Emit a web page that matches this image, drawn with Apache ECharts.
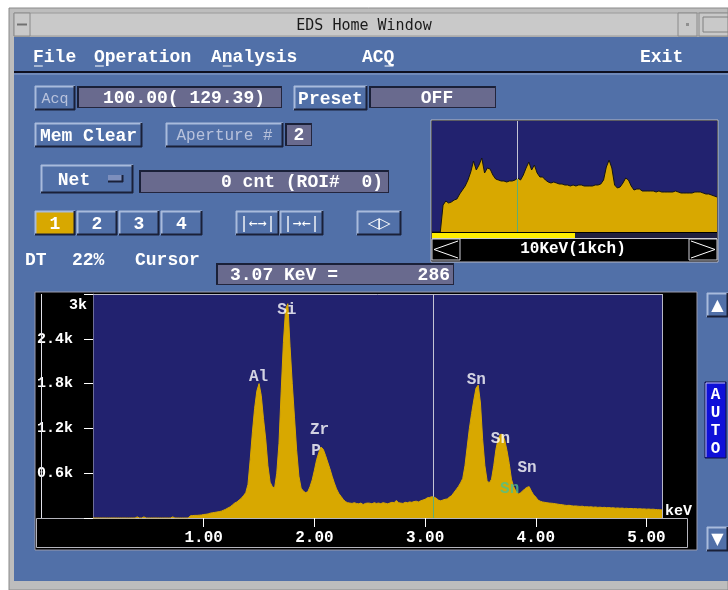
<!DOCTYPE html>
<html>
<head>
<meta charset="utf-8">
<script src="https://cdn.jsdelivr.net/npm/echarts@6/dist/echarts.min.js"></script>
<style>
  html, body { margin: 0; padding: 0; background: #ffffff; }
  #chart { width: 728px; height: 590px; }
</style>
</head>
<body>
<div id="chart"></div>
<script>
// spectrum channels: 0.02 keV per point, starting at 0 keV
const SPEC_START = 0;
const SPEC_STEP = 0.02;
const specCounts = [
  0, 0, 0, 0, 0, 0, 0, 0, 0, 0, 0, 0, 0, 0, 0, 0, 0, 0, 0, 0,
  15, 0, 0, 15, 0, 0, 0, 0, 0, 0, 0, 0, 0, 0, 0, 0, 15, 0, 0, 0,
  0, 0, 0, 0, 30, 32, 35, 35, 38, 40, 47, 50, 55, 65, 70, 75, 80, 85, 92, 105,
  118, 135, 150, 175, 200, 215, 240, 265, 300, 340, 450, 780, 1150, 1470, 1700, 1800, 1640, 1330, 1060, 700,
  480, 420, 400, 600, 1000, 1700, 2350, 2800, 2870, 2300, 1800, 1350, 900, 560, 400, 360, 340, 350, 420, 510,
  640, 780, 880, 950, 920, 840, 750, 660, 560, 470, 390, 330, 290, 250, 220, 205, 200, 195, 205, 195,
  190, 200, 180, 195, 200, 198, 190, 205, 195, 200, 192, 205, 198, 190, 200, 210, 205, 235, 205, 200,
  195, 210, 205, 215, 210, 220, 225, 215, 230, 240, 250, 270, 275, 285, 280, 265, 240, 230, 240, 250,
  255, 280, 300, 340, 380, 420, 470, 530, 700, 950, 1200, 1400, 1580, 1740, 1780, 1540, 1050, 700, 500, 470,
  520, 700, 920, 1060, 1120, 1120, 1040, 900, 730, 520, 420, 360, 320, 335, 360, 390, 410, 420, 360, 310,
  280, 240, 225, 215, 210, 205, 200, 198, 195, 190, 185, 180, 178, 172, 168, 170, 165, 160, 162, 158,
  155, 158, 150, 152, 148, 150, 145, 148, 142, 145, 140, 143, 138, 140, 135, 138, 132, 135, 130, 133,
  128, 130, 126, 128, 124, 126, 122, 124, 120, 122, 118, 120, 116, 118, 114, 112, 110, 108
];

// overview strip: 0.1 keV per point, relative height
const MINI_STEP = 0.1;
const miniHeights = [
  0, 0, 0, 0, 27, 31, 29, 30, 32, 33, 38, 42, 46, 52, 60, 71, 62, 67, 74, 59,
  64, 63, 57, 53, 52, 51, 51, 50, 51, 51, 52, 54, 52, 57, 64, 70, 62, 67, 59, 55,
  55, 52, 50, 49, 50, 49, 48, 48, 47, 47, 46, 47, 46, 47, 47, 46, 46, 46, 46, 47,
  47, 48, 52, 65, 72, 64, 47, 44, 45, 49, 54, 52, 46, 42, 43, 43, 41, 41, 41, 41,
  41, 40, 41, 40, 40, 40, 40, 40, 41, 40, 39, 39, 39, 39, 39, 40, 40, 40, 39, 38,
  38, 37, 36, 35
];

const peakNames = ["Al", "Si", "Zr", "P", "Sn", "Sn", "Sn", "Sn"];
const peakKeV = [1.495, 1.751, 2.046, 2.016, 3.463, 3.68, 3.921, 3.764];
const peakLabelY = [1894, 2791, 1177, 894, 1849, 1065, 670, 383];

const xTickValues = [1, 2, 3, 4, 5];
const cursorKeV = 3.07;
const cursorCount = 286;

const specData = specCounts.map((c, i) => [+(SPEC_START + i * SPEC_STEP).toFixed(2), c]);
const miniData = miniHeights.map((h, i) => [+(i * MINI_STEP).toFixed(1), h]);

const BODY = "#5170a8";
const FIELD = "#696a8e";
const PLOT = "#22226f";
const GOLD = "#d8a800";
const LIGHT = "#a9bbdc";
const DARK = "#1a2038";
const FONT = "bold 18px 'Liberation Mono', monospace";
const FONT_S = "bold 16px 'Liberation Mono', monospace";

const els = [];

function rect(x, y, w, h, fill, stroke, z) {
  els.push({ type: "rect", z: z == null ? -5 : z, shape: { x, y, width: w, height: h },
    style: { fill: fill, stroke: stroke || null, lineWidth: stroke ? 1 : 0 } });
}
function line(x1, y1, x2, y2, color, lw, z) {
  els.push({ type: "line", z: z == null ? -4 : z, shape: { x1, y1, x2, y2 },
    style: { stroke: color, lineWidth: lw || 1 } });
}
function text(t, x, y, font, color, align, z) {
  els.push({ type: "text", z: z == null ? 10 : z, x: x, y: y,
    style: { text: t, font: font, fill: color, align: align || "left", verticalAlign: "middle",
      textAlign: align || "left", textVerticalAlign: "middle" } });
}
// raised button with bevel
function button(x, y, w, h, fill, label, color, font) {
  rect(x, y, w, h, fill);
  line(x, y + 0.5, x + w, y + 0.5, LIGHT, 2);
  line(x + 0.5, y, x + 0.5, y + h, LIGHT, 2);
  line(x, y + h - 0.5, x + w, y + h - 0.5, DARK, 2);
  line(x + w - 0.5, y, x + w - 0.5, y + h, DARK, 2);
  if (label) text(label, x + w / 2, y + h / 2 + 1, font || FONT, color || "#ffffff", "center");
}
// sunken value field
function field(x, y, w, h, label, align, tx) {
  rect(x, y, w, h, FIELD);
  line(x, y + 1, x + w, y + 1, DARK, 2);
  line(x + 1, y, x + 1, y + h, DARK, 2);
  line(x, y + h - 0.5, x + w, y + h - 0.5, "#23253d", 1);
  line(x + w - 0.5, y, x + w - 0.5, y + h, "#23253d", 1);
  if (label) text(label, tx, y + h / 2 + 1, FONT, "#ffffff", align);
}

// window frame and title bar
rect(9, 8, 719, 582, "#bdbdbd", "#8a8a8a", -20);
rect(14, 13, 714, 23, "#c9c9c9", "#9a9a9a", -19);
rect(14, 13, 16, 23, "#c9c9c9", "#8a8a8a", -18);
line(17, 24.5, 27, 24.5, "#707070", 2, -17);
rect(678, 13, 19, 23, "#c9c9c9", "#8a8a8a", -18);
rect(686, 23, 3, 3, "#909090", null, -17);
rect(699, 13, 29, 23, "#c9c9c9", "#8a8a8a", -18);
rect(703, 17, 25, 15, "#c9c9c9", "#808080", -17);
text("EDS Home Window", 364, 26, "15px 'DejaVu Sans Mono', monospace", "#1a1a1a", "center");

// body
rect(14, 37, 714, 544, BODY, null, -19);
line(14, 72, 728, 72, "#0e1020", 2);
line(14, 74, 728, 74, "#8fa3cc", 1);

// menu
const menu = [["File", 33, 0], ["Operation", 94, 0], ["Analysis", 211, 1], ["ACQ", 362, 2], ["Exit", 640, -1]];
menu.forEach(([t, x, u]) => {
  text(t, x, 57, FONT, "#ffffff", "left");
  if (u >= 0) line(x + u * 10.8 + 1, 66, x + (u + 1) * 10.8 - 1, 66, "#ffffff", 1, 10);
});

// controls row 1
button(35, 86, 40, 24, BODY, "Acq", "#b8c2dc", "15px 'Liberation Mono', monospace");
field(77, 86, 205, 22, "100.00( 129.39)", "center", 184);
button(294, 86, 73, 24, BODY, "Preset");
field(369, 86, 127, 22, "OFF", "center", 437);

// row 2
button(35, 123, 107, 24, BODY, "Mem Clear");
button(166, 123, 117, 24, BODY, "Aperture #", "#b8c2dc", "16px 'Liberation Mono', monospace");
field(285, 123, 27, 23, "2", "center", 299);

// row 3
button(41, 165, 92, 28, BODY, null);
text("Net", 74, 180, FONT, "#ffffff", "center");
rect(108, 175, 15, 7, "#7d8fbd", null, -3);
line(108, 181.5, 123, 181.5, DARK, 2, -2);
line(122.5, 175, 122.5, 182, DARK, 2, -2);
field(139, 170, 250, 23, "0 cnt (ROI#  0)", "right", 383);

// row 4
button(35, 211, 40, 24, GOLD, "1");
button(77, 211, 40, 24, BODY, "2");
button(119, 211, 40, 24, BODY, "3");
button(161, 211, 41, 24, BODY, "4");
button(236, 211, 43, 24, BODY, "|\u2190\u2192|", "#ffffff", "15px 'DejaVu Sans Mono', monospace");
button(280, 211, 43, 24, BODY, "|\u2192\u2190|", "#ffffff", "15px 'DejaVu Sans Mono', monospace");
button(357, 211, 44, 24, BODY, "\u25C1\u25B7", "#ffffff", "15px 'DejaVu Sans', sans-serif");

// status row
text("DT", 25, 260, FONT, "#ffffff", "left");
text("22%", 72, 260, FONT, "#ffffff", "left");
text("Cursor", 135, 260, FONT, "#ffffff", "left");
field(216, 263, 238, 22, null);
text(cursorKeV.toFixed(2) + " KeV =", 230, 275, FONT, "#ffffff", "left");
text(String(cursorCount), 450, 275, FONT, "#ffffff", "right");

// overview strip frame
rect(431, 120, 287, 142, "#000000", "#b9b9c6", -6);
rect(432, 233, 285, 5, "#202040", null, -4);
rect(432, 233, 143, 5, "#ffee00", null, -3);
line(432, 238.5, 717, 238.5, "#c8c8d0", 1, -3);
rect(432, 239, 28, 21, "#000000", "#d0d0d8", -3);
rect(689, 239, 28, 21, "#000000", "#d0d0d8", -3);
els.push({ type: "polyline", z: 5, shape: { points: [[458, 241], [434, 249.5], [458, 258]] }, style: { stroke: "#ffffff", fill: null, lineWidth: 1 } });
els.push({ type: "polyline", z: 5, shape: { points: [[691, 241], [715, 249.5], [691, 258]] }, style: { stroke: "#ffffff", fill: null, lineWidth: 1 } });
text("10KeV(1kch)", 573, 249, FONT_S, "#ffffff", "center");

// main spectrum frame
rect(35, 292, 662, 258, "#000000", "#9a9aac", -6);
rect(36.5, 518.5, 651, 29, "#000000", "#b4b4bc", -4);
line(41.5, 294, 41.5, 518, "#e0e0e8", 1, 5);
line(93, 294.5, 662, 294.5, "#b8b8c8", 1, 5);
line(662.5, 294, 662.5, 518, "#b8b8c8", 1, 5);
text("3k", 87, 305, "bold 15px 'Liberation Mono', monospace", "#ffffff", "right");
text("keV", 665, 511, "bold 15px 'Liberation Mono', monospace", "#ffffff", "left");

// side buttons
button(707, 293, 21, 24, BODY, "\u25B2", "#ffffff", "16px 'DejaVu Sans', sans-serif");
button(707, 527, 21, 24, BODY, "\u25BC", "#ffffff", "16px 'DejaVu Sans', sans-serif");
rect(705, 382, 21, 76, "#0f10d8", "#101040");
line(706, 383, 725, 383, "#c8c8e8", 1);
line(706, 383, 706, 457, "#c8c8e8", 1);
["A", "U", "T", "O"].forEach((c, i) => text(c, 715.5, 395 + i * 18, FONT_S, "#ffffff", "center"));

const chart = echarts.init(document.getElementById("chart"), null, { renderer: "canvas" });

chart.setOption({
  animation: false,
  backgroundColor: "#ffffff",
  grid: [
    { left: 93, top: 294, width: 569, height: 224, show: true, backgroundColor: PLOT, borderWidth: 0 },
    { left: 432, top: 121, width: 285, height: 111, show: true, backgroundColor: PLOT, borderWidth: 0 }
  ],
  xAxis: [
    {
      gridIndex: 0, type: "value", min: 0, max: 5.14, interval: 1,
      axisLine: { show: true, lineStyle: { color: "#b4b4bc" } },
      axisTick: { show: true, inside: false, length: 9, customValues: xTickValues, lineStyle: { color: "#ffffff" } },
      axisLabel: { customValues: xTickValues, margin: 12, color: "#ffffff",
        fontFamily: "Liberation Mono", fontWeight: "bold", fontSize: 16,
        formatter: (v) => v.toFixed(2) },
      splitLine: { show: false }
    },
    {
      gridIndex: 1, type: "value", min: 0, max: 10.3,
      axisLine: { show: false }, axisTick: { show: false }, axisLabel: { show: false }, splitLine: { show: false }
    }
  ],
  yAxis: [
    {
      gridIndex: 0, type: "value", min: 0, max: 3000, interval: 600,
      axisLine: { show: true, lineStyle: { color: "#6e6e98" } },
      axisTick: { show: true, inside: false, length: 9, lineStyle: { color: "#ffffff" } },
      axisLabel: { margin: 20, color: "#ffffff", fontFamily: "Liberation Mono", fontWeight: "bold", fontSize: 15,
        formatter: (v) => (v === 0 || v === 3000) ? "" : (v / 1000).toFixed(1) + "k" },
      splitLine: { show: false }
    },
    {
      gridIndex: 1, type: "value", min: 0, max: 111,
      axisLine: { show: false }, axisTick: { show: false }, axisLabel: { show: false }, splitLine: { show: false }
    }
  ],
  series: [
    {
      type: "line", xAxisIndex: 0, yAxisIndex: 0, data: specData,
      symbol: "none", z: 3,
      lineStyle: { color: GOLD, width: 1 },
      areaStyle: { color: GOLD, opacity: 1 },
      markLine: {
        silent: true, symbol: "none", label: { show: false },
        data: [
          [{ coord: [cursorKeV, 0], lineStyle: { color: "#c4c4d4", width: 1, type: "solid" } },
           { coord: [cursorKeV, 3000] }],
          [{ coord: [cursorKeV, 0], lineStyle: { color: "#5fae74", width: 1, type: "solid" } },
           { coord: [cursorKeV, cursorCount] }]
        ]
      }
    },
    {
      type: "scatter", xAxisIndex: 0, yAxisIndex: 0, symbolSize: 0, z: 5, silent: true,
      data: peakNames.map((n, i) => ({ name: n, value: [peakKeV[i], peakLabelY[i]],
        label: { color: i === 7 ? "#4fc08a" : "#ffffff" } })),
      label: { show: true, position: "inside", formatter: (p) => p.name,
        fontFamily: "Liberation Mono", fontWeight: "bold", fontSize: 16 }
    },
    {
      type: "line", xAxisIndex: 1, yAxisIndex: 1, data: miniData,
      symbol: "none", z: 3,
      lineStyle: { color: "#151515", width: 1 },
      areaStyle: { color: GOLD, opacity: 1 },
      markLine: {
        silent: true, symbol: "none", label: { show: false },
        data: [
          [{ coord: [cursorKeV, 0], lineStyle: { color: "#c4c4d4", width: 1, type: "solid" } },
           { coord: [cursorKeV, 111] }],
          [{ coord: [cursorKeV, 0], lineStyle: { color: "#5fae74", width: 1, type: "solid" } },
           { coord: [cursorKeV, 53] }]
        ]
      }
    }
  ],
  graphic: { elements: els }
});
</script>
</body>
</html>
